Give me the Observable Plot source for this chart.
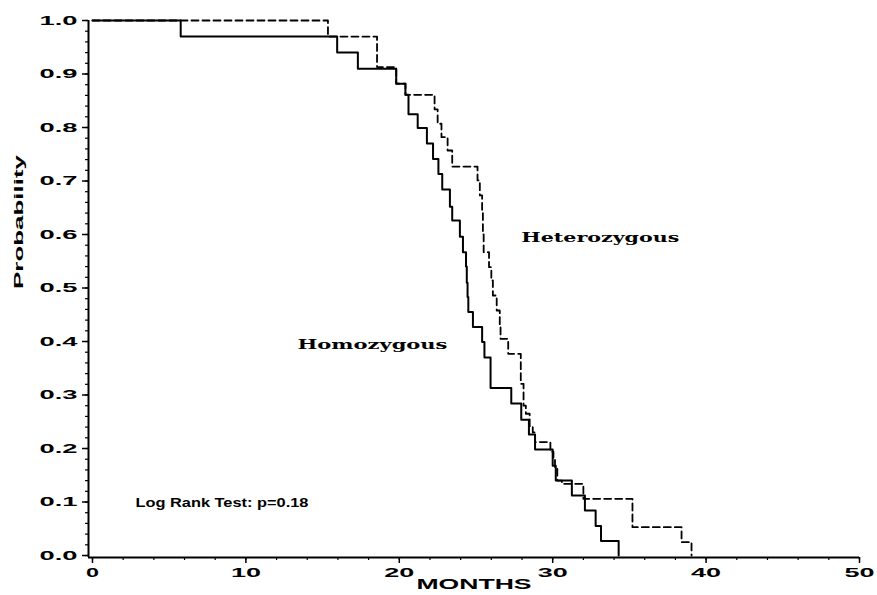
<!DOCTYPE html>
<html>
<head>
<meta charset="utf-8">
<script src="https://cdn.jsdelivr.net/npm/d3@7"></script>
<script src="https://cdn.jsdelivr.net/npm/@observablehq/plot@0.6"></script>
<style>
  html, body { margin: 0; padding: 0; background: #fff; }
</style>
</head>
<body>
<script>
// Homozygous (solid) Kaplan–Meier estimate
const homoMonths = [0, 5.75, 15.95, 17.3, 19.8, 20.4, 20.6, 21.2, 21.8, 22.2, 22.55, 22.8, 23.3, 23.45, 23.95, 24.15, 24.35, 24.4, 24.45, 24.5, 24.8, 25.4, 25.55, 25.95, 27.3, 27.95, 28.45, 28.85, 30.0, 30.2, 31.25, 32.1, 32.8, 33.15, 34.3];
const homoSurv = [1.0, 0.970, 0.940, 0.910, 0.882, 0.861, 0.825, 0.799, 0.770, 0.741, 0.713, 0.684, 0.652, 0.626, 0.596, 0.567, 0.540, 0.510, 0.483, 0.455, 0.427, 0.399, 0.370, 0.313, 0.284, 0.254, 0.226, 0.198, 0.168, 0.140, 0.112, 0.084, 0.055, 0.027, 0.0];

// Heterozygous (dashed) Kaplan–Meier estimate
const heteroMonths = [0, 15.35, 18.55, 19.8, 20.4, 22.3, 22.5, 22.75, 23.15, 23.45, 25.1, 25.25, 25.4, 25.45, 25.5, 25.85, 26.0, 26.1, 26.35, 26.55, 26.6, 27.1, 27.92, 28.1, 28.25, 28.5, 28.7, 28.85, 29.85, 30.05, 30.15, 30.3, 30.6, 32.0, 35.2, 38.4, 39.05];
const heteroSurv = [1.0, 0.970, 0.913, 0.882, 0.861, 0.834, 0.807, 0.782, 0.757, 0.727, 0.701, 0.673, 0.640, 0.600, 0.567, 0.539, 0.514, 0.486, 0.458, 0.430, 0.405, 0.377, 0.321, 0.280, 0.265, 0.242, 0.230, 0.212, 0.194, 0.180, 0.162, 0.140, 0.134, 0.106, 0.053, 0.025, 0.0];

// Axis ticks and texts
const xTicks = [0, 10, 20, 30, 40, 50];
const xMinorTicks = [0, 2, 4, 6, 8, 10, 12, 14, 16, 18, 20, 22, 24, 26, 28, 30, 32, 34, 36, 38, 40, 42, 44, 46, 48, 50];
const yTicks = [0.0, 0.1, 0.2, 0.3, 0.4, 0.5, 0.6, 0.7, 0.8, 0.9, 1.0];
const yMinorTicks = d3.range(0, 51).map(i => i / 50);
const xLabel = "MONTHS";
const yLabel = "Probability";
const groupNames = ["Homozygous", "Heterozygous"];
const testText = "Log Rank Test: p=0.18";

const homo = homoMonths.map((m, i) => ({month: m, surv: homoSurv[i]}));
const hetero = heteroMonths.map((m, i) => ({month: m, surv: heteroSurv[i]}));

const xDomain = [-0.26, 50];
const yDomain = [-0.0037, 1];

const chart = Plot.plot({
  width: 877,
  height: 595,
  marginLeft: 88,
  marginRight: 18,
  marginTop: 20,
  marginBottom: 38,
  style: {fontFamily: "'Liberation Sans', Arial, sans-serif", fontSize: "12px", fontWeight: "bold", color: "#000", background: "#fff"},
  x: {domain: xDomain},
  y: {domain: yDomain},
  marks: [
    Plot.axisX({ticks: xMinorTicks, tickSize: 3, text: null, label: null, strokeWidth: 1.2}),
    Plot.axisX({ticks: xTicks, tickSize: 6, tickPadding: 5, tickFormat: d => String(d), label: null, strokeWidth: 1.5, fontSize: 12.5}),
    Plot.axisY({ticks: yMinorTicks, tickSize: 3, text: null, label: null, strokeWidth: 1.2}),
    Plot.axisY({ticks: yTicks, tickSize: 6, tickPadding: 5, tickFormat: d3.format(".1f"), label: null, strokeWidth: 1.5, fontSize: 12.5}),
    Plot.ruleX([xDomain[0]], {stroke: "#000", strokeWidth: 2}),
    Plot.ruleY([yDomain[0]], {stroke: "#000", strokeWidth: 2}),
    Plot.line(hetero, {x: "month", y: "surv", curve: "step-after", stroke: "#000", strokeWidth: 1.8, strokeDasharray: "7,4"}),
    Plot.line(homo, {x: "month", y: "surv", curve: "step-after", stroke: "#000", strokeWidth: 2}),
    Plot.text([groupNames[1]], {x: 33.1, y: 0.593, fontFamily: "'DejaVu Serif', serif", fontWeight: "bold", fontSize: 12}),
    Plot.text([groupNames[0]], {x: 18.25, y: 0.394, fontFamily: "'DejaVu Serif', serif", fontWeight: "bold", fontSize: 12}),
    Plot.text([testText], {x: 8.44, y: 0.099, fontSize: 13.5, fontWeight: 600}),
    Plot.text([xLabel], {frameAnchor: "bottom", dy: 31, fontSize: 15, fontWeight: "bold"}),
    Plot.text([yLabel], {frameAnchor: "left", rotate: -90, dx: -70, fontSize: 13, fontWeight: "bold"})
  ]
});

document.body.append(chart);

// Stretch texts to the wide, extended lettering of the original
const widths = {"Heterozygous": 158, "Homozygous": 150, "Log Rank Test: p=0.18": 173, "MONTHS": 115, "Probability": 134};
chart.querySelectorAll("text").forEach(t => {
  const s = t.textContent;
  let w = widths[s];
  const g = t.closest("g[aria-label]");
  const lab = g ? g.getAttribute("aria-label") : "";
  if (w == null && lab.startsWith("y-axis tick label")) w = 38;
  if (w == null && lab.startsWith("x-axis tick label")) w = s.length === 1 ? 13 : 30;
  if (w) {
    t.setAttribute("textLength", w);
    t.setAttribute("lengthAdjust", "spacingAndGlyphs");
  }
});
</script>
</body>
</html>
